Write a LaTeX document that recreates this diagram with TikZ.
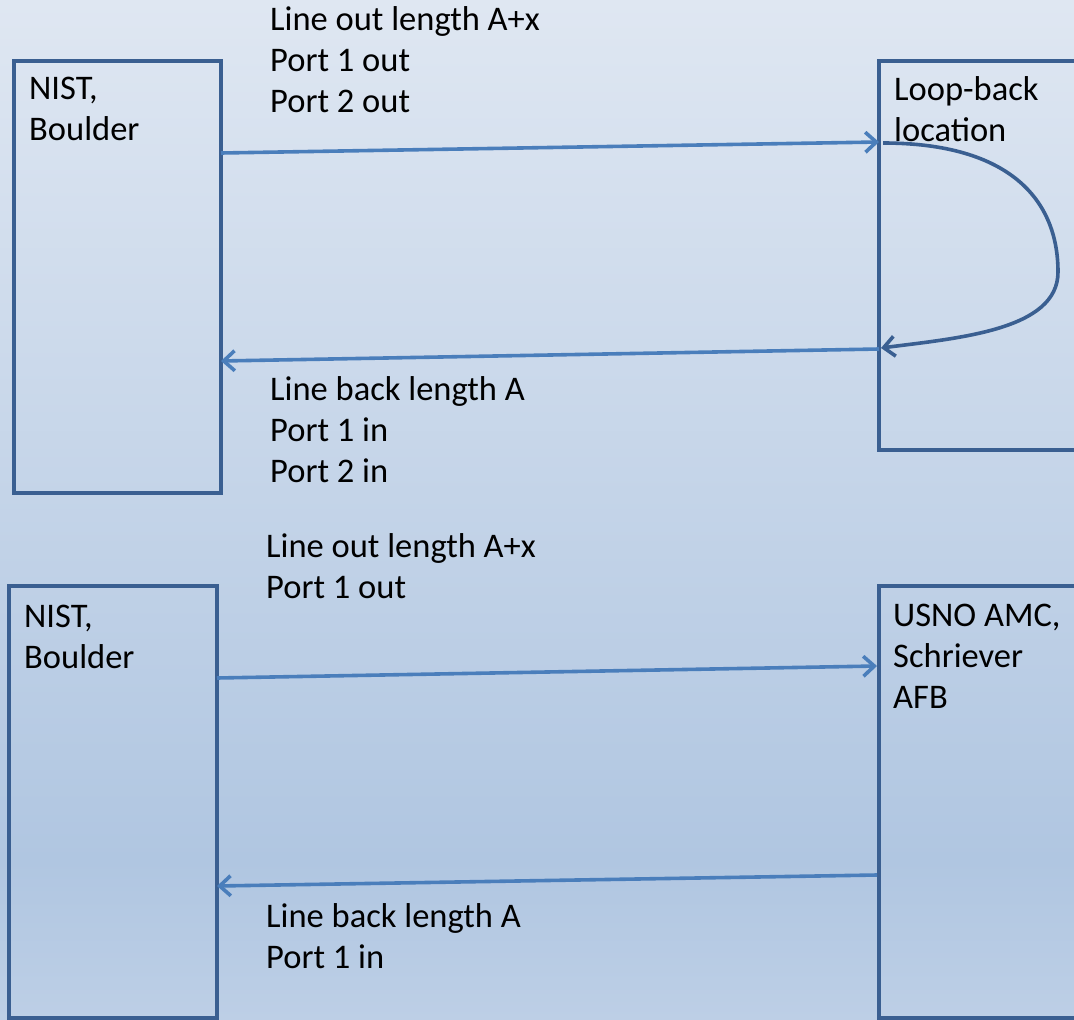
\documentclass[tikz,border=0pt]{standalone}
\usepackage{fontspec}
\setmainfont{Carlito}
\usetikzlibrary{arrows.meta,calc}
\definecolor{bgtop}{RGB}{223,231,242}
\definecolor{bgmid}{RGB}{176,198,225}
\definecolor{bgbot}{RGB}{189,207,230}
\definecolor{boxline}{RGB}{58,95,145}
\definecolor{arrline}{RGB}{74,126,187}
\begin{document}
\begin{tikzpicture}[x=1pt,y=-1pt,
  site/.style={draw=boxline, line width=3.8pt, inner sep=0pt, outer sep=0pt, anchor=north west},
  conn/.style={draw=arrline, line width=3.6pt, -{Straight Barb[length=11pt,width=20pt]}},
  loopconn/.style={draw=boxline, line width=3.6pt, -{Straight Barb[length=11pt,width=20pt]}},
  lbl/.style={font=\fontsize{34.5}{41}\selectfont, inner sep=0pt, anchor=base west, align=left, text=black}]
\useasboundingbox (0,0) rectangle (1074,1020);
\shade[top color=bgtop, bottom color=bgmid] (0,0) rectangle (1074,860.5);
\shade[top color=bgmid, bottom color=bgbot] (0,860) rectangle (1074,1020);

% boxes
\node[site, minimum width=207pt, minimum height=432pt] (nist1) at (14,61) {};
\node[site, minimum width=250pt, minimum height=389pt] (loop) at (879,61) {};
\node[site, minimum width=208pt, minimum height=432pt] (nist2) at (9,586) {};
\node[site, minimum width=250pt, minimum height=432pt] (usno) at (879,586) {};

% box labels (anchor = baseline of the last line)
\node[lbl] (nist1lbl) at ($(nist1.north west)+(15,79)$) {NIST,\\Boulder};
\node[lbl] (looplbl) at ($(loop.north west)+(15,80)$) {Loop-back\\location};
\node[lbl] (nist2lbl) at ($(nist2.north west)+(15,82)$) {NIST,\\Boulder};
\node[lbl] (usnolbl) at ($(usno.north west)+(14,122)$) {USNO AMC,\\Schriever\\AFB};

% connector labels
\node[lbl] (out1) at (270,112) {Line out length A+x\\Port 1 out\\Port 2 out};
\node[lbl] (back1) at (270,482) {Line back length A\\Port 1 in\\Port 2 in};
\node[lbl] (out2) at (266,598) {Line out length A+x\\Port 1 out};
\node[lbl] (back2) at (266,968) {Line back length A\\Port 1 in};

% connectors
\draw[conn] ($(nist1.north east)+(0,92)$) -- ($(loop.north west)+(0,81)$);
\draw[conn] ($(loop.north west)+(0,288)$) -- ($(nist1.north east)+(0,300)$);
\draw[conn] ($(nist2.north east)+(0,92)$) -- ($(usno.north west)+(-2,80)$);
\draw[conn] ($(usno.north west)+(-2,289)$) -- ($(nist2.north east)+(0,300)$);

% loop-back
\coordinate (ls) at ($(loop.north west)+(4,82)$);
\coordinate (lm) at ($(loop.north west)+(179,211)$);
\coordinate (le) at ($(loop.north west)+(2,287)$);
\draw[loopconn] (ls) .. controls +(127,0) and +(0,-72) .. (lm)
  .. controls +(0,58) and +(78,-10) .. (le);
\end{tikzpicture}
\end{document}
